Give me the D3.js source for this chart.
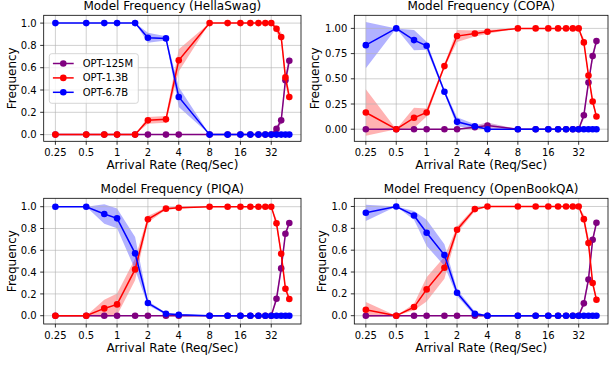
<!DOCTYPE html>
<html>
<head>
<meta charset="utf-8">
<script src="https://cdn.jsdelivr.net/npm/d3@7"></script>
<style>
  html, body { margin: 0; padding: 0; background: #fff; }
  svg { display: block; font-family: "DejaVu Sans", sans-serif; }
</style>
</head>
<body>
<div id="chart"></div>
<script>
// arrival rates (req/sec), shared by every panel
const arrivalRates = [0.25, 0.5, 0.75, 1, 1.5, 2, 3, 4, 8, 12, 16, 20, 24, 28, 32, 36, 40, 44, 48];
const xTickValues = [0.25, 0.5, 1, 2, 4, 8, 16, 32];
const xTickLabels = ["0.25", "0.5", "1", "2", "4", "8", "16", "32"];
const modelNames = ["OPT-125M", "OPT-1.3B", "OPT-6.7B"];
const modelColors = ["purple", "red", "blue"];

// HellaSwag
const hellaswag125M   = [0, 0, 0, 0, 0, 0, 0, 0, 0, 0, 0, 0, 0, 0, 0, 0.051, 0.128, 0.487, 0.663];
const hellaswag125MSd = [0, 0, 0, 0, 0, 0, 0, 0, 0, 0, 0, 0, 0, 0, 0, 0.02, 0.03, 0.05, 0.05];
const hellaswag13B    = [0, 0, 0, 0, 0, 0.128, 0.137, 0.666, 1, 1, 1, 1, 1, 1, 1, 0.949, 0.875, 0.513, 0.337];
const hellaswag13BSd  = [0, 0, 0, 0, 0, 0.03, 0.03, 0.1, 0, 0, 0, 0, 0, 0, 0, 0.03, 0.04, 0.05, 0.05];
const hellaswag67B    = [1, 1, 1, 1, 1, 0.869, 0.863, 0.337, 0, 0, 0, 0, 0, 0, 0, 0, 0, 0, 0];
const hellaswag67BSd  = [0, 0, 0, 0, 0, 0.045, 0.02, 0.09, 0, 0, 0, 0, 0, 0, 0, 0, 0, 0, 0];

// COPA
const copa125M   = [0, 0, 0, 0, 0, 0, 0.02, 0.036, 0, 0, 0, 0, 0, 0, 0, 0.139, 0.464, 0.725, 0.874];
const copa125MSd = [0, 0, 0, 0, 0, 0, 0.02, 0.03, 0, 0, 0, 0, 0, 0, 0, 0.04, 0.04, 0.04, 0.03];
const copa13B    = [0.166, 0, 0.113, 0.166, 0.626, 0.924, 0.95, 0.967, 1, 1, 1, 1, 1, 1, 1, 0.861, 0.533, 0.275, 0.126];
const copa13BSd  = [0.23, 0, 0.1, 0.04, 0.02, 0.06, 0.03, 0.02, 0, 0, 0, 0, 0, 0, 0, 0.04, 0.04, 0.03, 0.02];
const copa67B    = [0.834, 1, 0.884, 0.828, 0.371, 0.073, 0.03, 0, 0, 0, 0, 0, 0, 0, 0, 0, 0, 0, 0];
const copa67BSd  = [0.23, 0, 0.1, 0.04, 0.02, 0.045, 0.02, 0, 0, 0, 0, 0, 0, 0, 0, 0, 0, 0, 0];

// PIQA
const piqa125M   = [0, 0, 0, 0, 0, 0, 0, 0, 0, 0, 0, 0, 0, 0, 0, 0.156, 0.434, 0.752, 0.85];
const piqa125MSd = [0, 0, 0, 0, 0, 0, 0, 0, 0, 0, 0, 0, 0, 0, 0, 0.03, 0.04, 0.03, 0.02];
const piqa13B    = [0, 0, 0.067, 0.104, 0.425, 0.884, 0.982, 0.991, 1, 1, 1, 1, 1, 1, 1, 0.847, 0.569, 0.248, 0.153];
const piqa13BSd  = [0, 0, 0.08, 0.1, 0.1, 0.03, 0.01, 0.01, 0, 0, 0, 0, 0, 0, 0, 0.04, 0.04, 0.03, 0.02];
const piqa67B    = [1, 1, 0.933, 0.893, 0.572, 0.116, 0.018, 0.009, 0, 0, 0, 0, 0, 0, 0, 0, 0, 0, 0];
const piqa67BSd  = [0, 0, 0.09, 0.09, 0.15, 0.02, 0.01, 0.01, 0, 0, 0, 0, 0, 0, 0, 0, 0, 0, 0];

// OpenBookQA
const obqa125M   = [0, 0, 0, 0, 0, 0, 0, 0, 0, 0, 0, 0, 0, 0, 0, 0.113, 0.332, 0.695, 0.851];
const obqa125MSd = [0, 0, 0, 0, 0, 0, 0, 0, 0, 0, 0, 0, 0, 0, 0, 0.03, 0.04, 0.03, 0.02];
const obqa13B    = [0.055, 0, 0.079, 0.241, 0.439, 0.787, 0.976, 1, 1, 1, 1, 1, 1, 1, 1, 0.884, 0.665, 0.299, 0.146];
const obqa13BSd  = [0.07, 0, 0.03, 0.11, 0.1, 0.03, 0.02, 0, 0, 0, 0, 0, 0, 0, 0, 0.04, 0.05, 0.03, 0.02];
const obqa67B    = [0.942, 1, 0.918, 0.759, 0.555, 0.21, 0.018, 0, 0, 0, 0, 0, 0, 0, 0, 0, 0, 0, 0];
const obqa67BSd  = [0.075, 0, 0.04, 0.12, 0.1, 0.03, 0.02, 0, 0, 0, 0, 0, 0, 0, 0, 0, 0, 0, 0];

const width = 609, height = 365;

const panels = [
    { title: "Model Frequency (HellaSwag)", means: [hellaswag125M, hellaswag13B, hellaswag67B],
      sds: [hellaswag125MSd, hellaswag13BSd, hellaswag67BSd],
      yDomain: [-0.06, 1.07], yTicks: [0, 0.2, 0.4, 0.6, 0.8, 1.0], yFmt: ".1f",
      box: { l: 43.7, r: 301, t: 15.3, b: 141.3 }, legend: true },
    { title: "Model Frequency (COPA)", means: [copa125M, copa13B, copa67B],
      sds: [copa125MSd, copa13BSd, copa67BSd],
      yDomain: [-0.12, 1.13], yTicks: [0, 0.25, 0.5, 0.75, 1.0], yFmt: ".2f",
      box: { l: 354.3, r: 608, t: 15.3, b: 141.3 }, legend: false },
    { title: "Model Frequency (PIQA)", means: [piqa125M, piqa13B, piqa67B],
      sds: [piqa125MSd, piqa13BSd, piqa67BSd],
      yDomain: [-0.076, 1.077], yTicks: [0, 0.2, 0.4, 0.6, 0.8, 1.0], yFmt: ".1f",
      box: { l: 43.7, r: 301, t: 198.3, b: 324 }, legend: false },
    { title: "Model Frequency (OpenBookQA)", means: [obqa125M, obqa13B, obqa67B],
      sds: [obqa125MSd, obqa13BSd, obqa67BSd],
      yDomain: [-0.076, 1.075], yTicks: [0, 0.2, 0.4, 0.6, 0.8, 1.0], yFmt: ".1f",
      box: { l: 354.3, r: 608, t: 198.3, b: 324 }, legend: false }
];

const svg = d3.select("#chart").append("svg")
    .attr("width", width)
    .attr("height", height)
    .attr("viewBox", `0 0 ${width} ${height}`);

// x limits like matplotlib: 5% margin in log space
const lo = Math.log2(d3.min(arrivalRates)), hi = Math.log2(d3.max(arrivalRates));
const pad = (hi - lo) * 0.05;
const xDomain = [2 ** (lo - pad), 2 ** (hi + pad)];

panels.forEach(p => {
    const { l, r, t, b } = p.box;
    const x = d3.scaleLog().base(2).domain(xDomain).range([l, r]);
    const y = d3.scaleLinear().domain(p.yDomain).range([b, t]);
    const g = svg.append("g");

    const clipId = "clip" + Math.round(l) + Math.round(t);
    g.append("clipPath").attr("id", clipId)
        .append("rect").attr("x", l).attr("y", t).attr("width", r - l).attr("height", b - t);

    // bands first (zorder 1)
    const area = d3.area()
        .x(d => x(d.x))
        .y0(d => y(d.m - d.s))
        .y1(d => y(d.m + d.s));
    const bandG = g.append("g").attr("clip-path", `url(#${clipId})`);
    p.means.forEach((m, i) => {
        const pts = arrivalRates.map((xv, j) => ({ x: xv, m: m[j], s: p.sds[i][j] }));
        bandG.append("path")
            .attr("d", area(pts))
            .attr("fill", modelColors[i])
            .attr("fill-opacity", 0.3);
    });

    // grid
    const gridG = g.append("g");
    gridG.selectAll("line.vx").data(xTickValues).join("line")
        .attr("x1", d => x(d)).attr("x2", d => x(d))
        .attr("y1", t).attr("y2", b)
        .attr("stroke", "#b0b0b0").attr("stroke-opacity", 0.75).attr("stroke-width", 0.8);
    gridG.selectAll("line.hy").data(p.yTicks).join("line")
        .attr("x1", l).attr("x2", r)
        .attr("y1", d => y(d)).attr("y2", d => y(d))
        .attr("stroke", "#b0b0b0").attr("stroke-opacity", 0.75).attr("stroke-width", 0.8);

    // lines and markers
    const line = d3.line().x(d => x(d.x)).y(d => y(d.m));
    const lineG = g.append("g").attr("clip-path", `url(#${clipId})`);
    p.means.forEach((m, i) => {
        const pts = arrivalRates.map((xv, j) => ({ x: xv, m: m[j] }));
        lineG.append("path")
            .attr("d", line(pts))
            .attr("fill", "none")
            .attr("stroke", modelColors[i])
            .attr("stroke-width", 1.5);
        lineG.append("g").selectAll("circle").data(pts).join("circle")
            .attr("cx", d => x(d.x))
            .attr("cy", d => y(d.m))
            .attr("r", 3.3)
            .attr("fill", modelColors[i]);
    });

    // spines
    g.append("rect")
        .attr("x", l).attr("y", t).attr("width", r - l).attr("height", b - t)
        .attr("fill", "none").attr("stroke", "#000").attr("stroke-width", 0.8);

    // x axis ticks
    const xt = g.append("g");
    xt.selectAll("line").data(xTickValues).join("line")
        .attr("x1", d => x(d)).attr("x2", d => x(d))
        .attr("y1", b).attr("y2", b + 3.5)
        .attr("stroke", "#000").attr("stroke-width", 0.8);
    xt.selectAll("text").data(xTickValues).join("text")
        .attr("x", d => x(d)).attr("y", b + 14.5)
        .attr("text-anchor", "middle")
        .attr("font-size", 10)
        .attr("fill", "#000")
        .text((d, i) => xTickLabels[i]);

    // y axis ticks
    const fmt = d3.format(p.yFmt);
    const yt = g.append("g");
    yt.selectAll("line").data(p.yTicks).join("line")
        .attr("x1", l - 3.5).attr("x2", l)
        .attr("y1", d => y(d)).attr("y2", d => y(d))
        .attr("stroke", "#000").attr("stroke-width", 0.8);
    yt.selectAll("text").data(p.yTicks).join("text")
        .attr("x", l - 7).attr("y", d => y(d))
        .attr("dy", "0.36em")
        .attr("text-anchor", "end")
        .attr("font-size", 10)
        .attr("fill", "#000")
        .text(d => fmt(d));

    // titles and labels
    g.append("text")
        .attr("x", (l + r) / 2).attr("y", t - 5.6)
        .attr("text-anchor", "middle")
        .attr("font-size", 12)
        .attr("fill", "#000")
        .text(p.title);
    g.append("text")
        .attr("x", (l + r) / 2).attr("y", b + 27.8)
        .attr("text-anchor", "middle")
        .attr("font-size", 12)
        .attr("fill", "#000")
        .text("Arrival Rate (Req/Sec)");
    const labX = l - (p.yFmt === ".2f" ? 35.5 : 28.2);
    g.append("text")
        .attr("transform", `translate(${labX},${(t + b) / 2}) rotate(-90)`)
        .attr("text-anchor", "middle")
        .attr("font-size", 12)
        .attr("fill", "#000")
        .text("Frequency");

    // legend
    if (p.legend) {
        const lg = g.append("g").attr("transform", `translate(${l + 5.6},${t + 38.4})`);
        lg.append("rect")
            .attr("x", 0).attr("y", 0).attr("width", 89).attr("height", 49.6)
            .attr("rx", 2.5)
            .attr("fill", "#fff").attr("fill-opacity", 0.8)
            .attr("stroke", "#ccc").attr("stroke-width", 0.8);
        modelNames.forEach((name, i) => {
            const cy = 9.8 + i * 14.4;
            lg.append("line")
                .attr("x1", 3.6).attr("x2", 24.4)
                .attr("y1", cy).attr("y2", cy)
                .attr("stroke", modelColors[i]).attr("stroke-width", 1.5);
            lg.append("circle")
                .attr("cx", 14).attr("cy", cy).attr("r", 3.3)
                .attr("fill", modelColors[i]);
            lg.append("text")
                .attr("x", 33.4).attr("y", cy)
                .attr("dy", "0.36em")
                .attr("font-size", 10)
                .attr("fill", "#000")
                .text(name);
        });
    }
});
</script>
</body>
</html>
